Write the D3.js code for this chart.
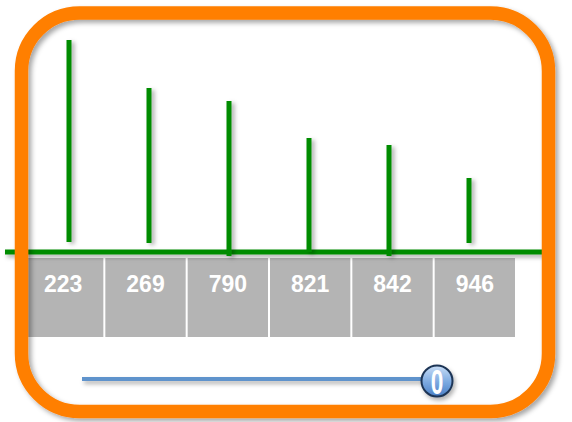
<!DOCTYPE html>
<html>
<head>
<meta charset="utf-8">
<script src="https://cdn.jsdelivr.net/npm/d3@7"></script>
<style>
  html, body { margin: 0; padding: 0; background: #ffffff; }
  svg { display: block; }
</style>
</head>
<body>
<script>
// ---- data ----
const categories = ["223", "269", "790", "821", "842", "946"];
const stemHigh = [212, 164, 151, 114, 107, 74];
const stemLow = [10, 9, -4, 0, -4, 9];
const sliderValue = ["0"];

const W = 572, H = 422;
const svg = d3.select("body").append("svg").attr("width", W).attr("height", H);
const defs = svg.append("defs");

function shadow(id, dx, dy, sd, op) {
  const f = defs.append("filter").attr("id", id)
    .attr("filterUnits", "userSpaceOnUse")
    .attr("x", -W).attr("y", -H).attr("width", 3 * W).attr("height", 3 * H);
  f.append("feDropShadow").attr("dx", dx).attr("dy", dy)
    .attr("stdDeviation", sd).attr("flood-color", "#000").attr("flood-opacity", op);
}
shadow("shStem", 3, 2, 2, 0.3);
shadow("shFrame", 3, 3, 2.5, 0.35);
shadow("shLine", 2, 3, 2, 0.3);

const knobGrad = defs.append("linearGradient").attr("id", "knobGrad")
  .attr("x1", 0).attr("y1", 0).attr("x2", 0).attr("y2", 1);
knobGrad.append("stop").attr("offset", "0%").attr("stop-color", "#c9def7");
knobGrad.append("stop").attr("offset", "55%").attr("stop-color", "#7aa8e0");
knobGrad.append("stop").attr("offset", "100%").attr("stop-color", "#4a7fc6");

// scales
const xBand = d3.scaleBand().domain(categories).range([23, 515]).paddingInner(2 / 82).paddingOuter(0);
const xStem = d3.scalePoint().domain(categories).range([69, 469]);
const y = d3.scaleLinear().domain([0, 212]).range([252, 40]);

// category boxes
svg.append("g").selectAll("rect").data(categories).join("rect")
  .attr("x", d => xBand(d)).attr("y", 258)
  .attr("width", xBand.bandwidth()).attr("height", 79)
  .attr("fill", "#b4b4b4");

svg.append("g").selectAll("text").data(categories).join("text")
  .attr("x", d => xBand(d) + xBand.bandwidth() / 2).attr("y", 292)
  .attr("text-anchor", "middle")
  .attr("font-family", "'Liberation Sans', Arial, sans-serif")
  .attr("font-weight", "bold").attr("font-size", 23)
  .attr("fill", "#ffffff")
  .text(d => d);

// baseline
svg.append("line")
  .attr("x1", 5).attr("x2", 545).attr("y1", y(0)).attr("y2", y(0))
  .attr("stroke", "#008c00").attr("stroke-width", 5)
  .attr("filter", "url(#shLine)");

// stems
svg.append("g").selectAll("line").data(categories).join("line")
  .attr("x1", d => xStem(d)).attr("x2", d => xStem(d))
  .attr("y1", (d, i) => y(stemHigh[i])).attr("y2", (d, i) => y(stemLow[i]))
  .attr("stroke", "#008c00").attr("stroke-width", 5)
  .attr("filter", "url(#shStem)");

// orange frame
svg.append("rect")
  .attr("x", 21.5).attr("y", 13).attr("width", 527).attr("height", 398.5)
  .attr("rx", 58).attr("ry", 58)
  .attr("fill", "none").attr("stroke", "#ff7f00").attr("stroke-width", 13.5)
  .attr("filter", "url(#shFrame)");

// slider
svg.append("line")
  .attr("x1", 82).attr("x2", 430).attr("y1", 379).attr("y2", 379)
  .attr("stroke", "#5f93cc").attr("stroke-width", 4)
  .attr("filter", "url(#shLine)");

const knob = svg.append("g").attr("transform", "translate(437,381)");
knob.append("circle").attr("r", 15.5)
  .attr("fill", "url(#knobGrad)").attr("stroke", "#1e3556").attr("stroke-width", 2)
  .attr("filter", "url(#shLine)");
knob.selectAll("text").data(sliderValue).join("text")
  .attr("x", 0).attr("y", 0)
  .attr("transform", "translate(0,12.5) scale(0.78,1.22)")
  .attr("text-anchor", "middle")
  .attr("font-family", "'Liberation Sans', Arial, sans-serif")
  .attr("font-weight", "bold")
  .attr("font-size", 29)
  .attr("fill", "#ffffff")
  .text(d => d);
</script>
</body>
</html>
